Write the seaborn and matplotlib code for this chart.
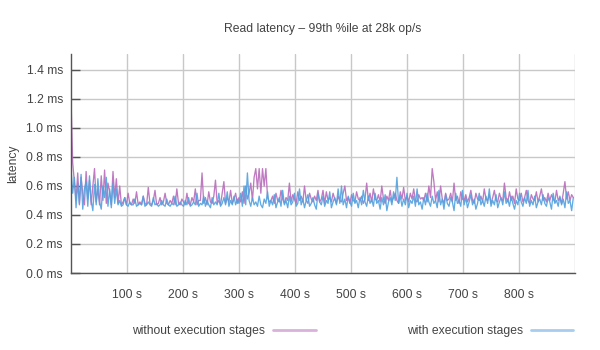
import numpy as np
import pandas as pd
import matplotlib
matplotlib.use("Agg")
import matplotlib.pyplot as plt
from matplotlib.lines import Line2D
import seaborn as sns

# ---------------- data (latency in hundredths of a millisecond, one sample every 3 s) ----------------
sample_interval_s = 3

without_stages = [
    120, 76, 63, 50, 69, 47, 66, 55, 47, 70, 51, 64, 47, 60, 72, 49, 58, 47, 67, 50, 71, 48, 62, 56, 47, 70, 52,
    65, 48, 60, 47, 49, 52, 47, 55, 48, 47,
    51, 48, 56, 47, 49, 47, 53, 48, 47, 59,
    48, 47, 50, 57, 47, 48, 52, 47, 49, 55,
    48, 47, 50, 48, 53, 47, 58, 48, 47, 51,
    49, 47, 55, 48, 47, 52, 49, 58, 47, 50,
    50, 69, 48, 52, 47, 56, 49, 48, 53, 64,
    48, 50, 47, 55, 63, 48, 52, 49, 57, 48,
    51, 55, 48,
    52, 49, 56, 48, 60, 51, 55, 62, 50, 66, 72, 58, 72, 55, 72, 60, 72, 52, 49,
    50, 53, 48, 55, 50, 49, 57, 51, 48, 52,
    50, 62, 49, 54, 51, 48, 56, 50, 53, 49,
    60, 50, 48, 55, 51, 49, 53, 50, 57, 49,
    51, 57, 48, 56, 50, 52, 49, 55, 51, 48,
    53, 50, 49, 55, 60, 50, 52, 48, 54, 50,
    49, 56, 51, 50, 53, 48, 51, 62, 50, 55,
    49, 58, 51, 50, 54, 49, 60, 51, 48, 53,
    50, 57, 49, 52, 55, 50, 48, 56, 51, 59,
    50, 53, 49, 55, 51, 58, 50, 49, 54, 51,
    52,
    50, 55, 49, 60, 52, 72, 63, 50, 56, 49, 60, 51, 48, 55, 50,
    51, 55, 49, 62, 50, 53, 48, 56, 51, 50,
    54, 49, 52, 57, 50, 48, 55, 51, 50, 53,
    49, 58, 51, 50, 54, 48, 52, 57, 50, 49,
    55, 51, 50, 62, 52, 49, 56, 50, 53, 48,
    58, 51, 50, 55, 49, 52, 57, 50, 48, 54,
    51, 50, 56, 49, 53, 58, 50, 52, 49, 55,
    50, 54, 51, 49, 57, 50, 52, 48, 55, 63,
    51, 56, 50, 54, 52,
]

with_stages = [
    72, 55, 66, 45, 62, 48, 68, 44, 58, 63, 46, 67, 50, 43, 61, 47, 65, 49, 44, 60, 52, 66, 46, 58, 45, 62, 48,
    58, 47, 50, 46, 47, 52, 47, 46, 49, 47,
    47, 51, 46, 47, 48, 47, 53, 46, 47, 49,
    47, 46, 52, 47, 48, 46, 47, 50, 47, 46,
    51, 47, 46, 48, 47, 53, 46, 47, 49, 47,
    46, 50, 47, 52, 46, 47, 49, 47, 55, 46,
    48, 47, 53, 46, 50, 47, 45, 52, 47, 49,
    47, 55, 46, 48, 52, 47, 56, 46, 50, 47,
    53, 47, 51,
    48, 55, 46, 60, 47, 69, 50, 46, 52, 47,
    49, 46, 53, 47, 45, 51, 48, 56, 46, 50,
    47, 54, 45, 49, 52, 46, 57, 47, 50, 45,
    53, 47, 49, 55, 46, 48, 58, 47, 51, 45,
    50, 54, 46, 48, 52, 47, 44, 55, 49, 47,
    53, 46, 50, 48, 56, 45, 49, 52, 47, 58,
    48, 60, 47, 51, 45, 53, 49, 46, 55, 48,
    50, 45, 52, 47, 57, 49, 46, 53, 48, 51,
    46, 55, 48, 50, 44, 52, 47, 54, 43, 49,
    52, 47, 56, 50, 66, 48, 53, 46, 51, 47,
    55, 45, 50, 48, 53, 46, 58, 47, 49, 44,
    52, 47, 55, 49, 46, 53, 48, 50, 45, 57,
    47, 51, 44, 54, 48, 46, 52, 49, 43, 55,
    48, 50, 46, 57, 47, 52, 45, 49, 54, 47,
    51, 44, 48, 55, 47, 50, 46, 53, 48, 58,
    46, 50, 47, 54, 45, 49, 52, 47, 56, 48,
    51, 46, 53, 48, 44, 50, 47, 55, 49, 46,
    52, 48, 57, 46, 50, 47, 53, 45, 49, 51,
    47, 54, 48, 46, 52, 49, 44, 55, 48, 50,
    46, 53, 47, 51, 45, 56, 48, 50, 43, 52,
]

series_names = ["without execution stages", "with execution stages"]
y_ticks_ms = [0.0, 0.2, 0.4, 0.6, 0.8, 1.0, 1.2, 1.4]
x_ticks_s = [100, 200, 300, 400, 500, 600, 700, 800, 900]
x_tick_labels = ["100 s", "200 s", "300 s", "400 s", "500 s", "600 s", "700 s", "800 s", ""]
title = "Read latency \u2013 99th %ile at 28k op/s"

# ---------------- build table ----------------
frames = []
for name, vals in zip(series_names, [without_stages, with_stages]):
    v = np.array(vals, dtype=float) / 100.0
    t = np.arange(len(v)) * sample_interval_s
    frames.append(pd.DataFrame({"time": t, "latency": v, "series": name}))
df = pd.concat(frames, ignore_index=True)

# ---------------- style ----------------
sns.set_theme(style="white")
plt.rcParams["font.family"] = ["Liberation Sans", "DejaVu Sans"]
FS = 8.7
TXT = "#444444"

fig = plt.figure(figsize=(6, 3.5), dpi=100)
ax = fig.add_axes([71 / 600, 1 - 273 / 350, (575 - 71) / 600, (273 - 54) / 350])

line_colors = {"without execution stages": "#b86cbc", "with execution stages": "#51a2df"}
legend_colors = {"without execution stages": "#d8b2da", "with execution stages": "#a6cdef"}

# grid
ax.set_axisbelow(True)
ax.grid(True, color="#c8c8c8", linewidth=1.0)

sns.lineplot(data=df, x="time", y="latency", hue="series", hue_order=series_names,
             palette=line_colors, linewidth=0.95, alpha=0.9, legend=False, ax=ax,
             estimator=None)

ax.set_xlim(0, 900)
ax.set_ylim(0, 1.51)
ax.set_yticks(y_ticks_ms)
ax.set_yticklabels([f"{v:.1f} ms" for v in y_ticks_ms])
ax.set_xticks(x_ticks_s)
ax.set_xticklabels(x_tick_labels)

for s in ["top", "right"]:
    ax.spines[s].set_visible(False)
for s in ["left", "bottom"]:
    ax.spines[s].set_visible(True)
    ax.spines[s].set_color("#555555")
    ax.spines[s].set_linewidth(1.0)

ax.tick_params(axis="y", direction="in", length=6.5, width=1, color="#555555",
               pad=5.8, labelsize=FS, labelcolor=TXT, left=True)
ax.tick_params(axis="x", length=0, pad=11.5, labelsize=FS, labelcolor=TXT)

ax.set_xlabel("")
ax.set_ylabel("latency", fontsize=FS, color=TXT)
ax.yaxis.set_label_coords((19 - 71) / 504, 0.5)
ax.set_title(title, fontsize=FS, color=TXT, pad=16)

# legends (text first, swatch after)
centers = [224, 490]
for name, cx in zip(series_names, centers):
    h = Line2D([], [], color=legend_colors[name], linewidth=2)
    fig.legend([h], [name], loc="center", bbox_to_anchor=(cx / 600, 1 - 331 / 350),
               frameon=False, markerfirst=False, handlelength=3.5, handletextpad=0.65,
               borderpad=0, fontsize=FS, labelcolor=TXT)

fig.savefig("out.png", dpi=100)
